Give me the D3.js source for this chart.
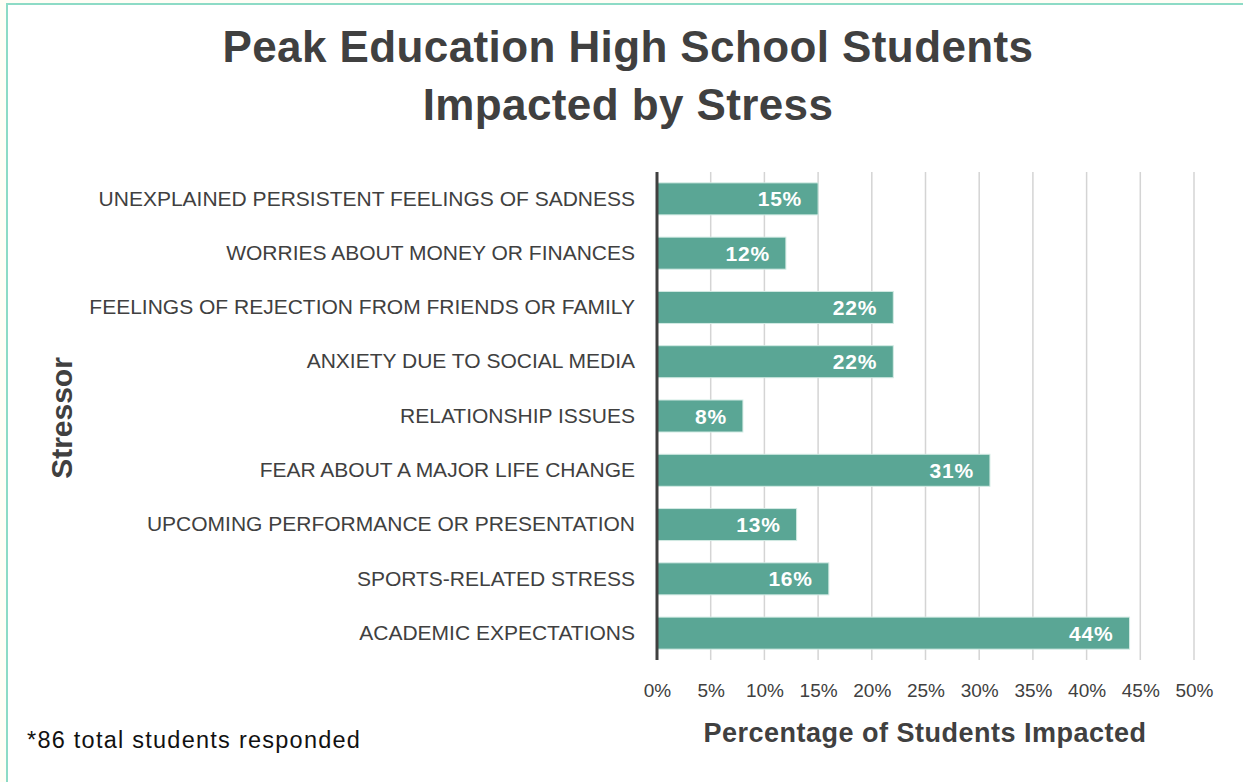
<!DOCTYPE html>
<html>
<head>
<meta charset="utf-8">
<script src="https://cdn.jsdelivr.net/npm/d3@7"></script>
<style>
  html, body { margin: 0; padding: 0; background: #fffef6; }
  svg { display: block; }
</style>
</head>
<body>
<div id="chart"></div>
<script>
const categories = [
  "UNEXPLAINED PERSISTENT FEELINGS OF SADNESS",
  "WORRIES ABOUT MONEY OR FINANCES",
  "FEELINGS OF REJECTION FROM FRIENDS OR FAMILY",
  "ANXIETY DUE TO SOCIAL MEDIA",
  "RELATIONSHIP ISSUES",
  "FEAR ABOUT A MAJOR LIFE CHANGE",
  "UPCOMING PERFORMANCE OR PRESENTATION",
  "SPORTS-RELATED STRESS",
  "ACADEMIC EXPECTATIONS"
]
const values = [15, 12, 22, 22, 8, 31, 13, 16, 44]
const xTicks = [0, 5, 10, 15, 20, 25, 30, 35, 40, 45, 50]

const W = 1243, H = 782
const svg = d3.select("#chart").append("svg").attr("width", W).attr("height", H)

// card with teal border on top/left
svg.append("rect").attr("x", 7).attr("y", 4).attr("width", W + 10).attr("height", H + 10)
  .attr("fill", "#ffffff").attr("stroke", "#8ddbc6").attr("stroke-width", 2)

const font = "'Liberation Sans', Arial, sans-serif"
const dark = "#404040"

const title = svg.append("text").attr("text-anchor", "middle")
  .style("font-family", font).style("font-weight", 700).style("font-size", "44px")
  .style("letter-spacing", "0.4px").attr("fill", dark)
title.append("tspan").attr("x", 628).attr("y", 62).text("Peak Education High School Students")
title.append("tspan").attr("x", 628).attr("y", 120).text("Impacted by Stress")

const x = d3.scaleLinear().domain([0, 50]).range([657, 1194])
const y = d3.scaleBand().domain(categories).range([172, 660]).paddingInner(0.41).paddingOuter(0.2)

// gridlines
svg.append("g").selectAll("line").data(xTicks.slice(1)).join("line")
  .attr("x1", d => x(d)).attr("x2", d => x(d)).attr("y1", 172).attr("y2", 660)
  .attr("stroke", "#d4d4d4").attr("stroke-width", 1.5)

// bars
svg.append("g").selectAll("rect").data(values).join("rect")
  .attr("x", x(0)).attr("y", (d, i) => y(categories[i]))
  .attr("width", d => x(d) - x(0)).attr("height", y.bandwidth())
  .attr("fill", "#5aa695").attr("stroke", "#d3ebe4").attr("stroke-width", 1)

// value labels
svg.append("g").selectAll("text").data(values).join("text")
  .attr("x", d => x(d) - 16).attr("y", (d, i) => y(categories[i]) + y.bandwidth() / 2)
  .attr("dy", "0.36em").attr("text-anchor", "end")
  .style("font-family", font).style("font-weight", 700).style("font-size", "21px")
  .style("letter-spacing", "0.8px")
  .attr("fill", "#ffffff").text(d => d + "%")

// y axis
const yAxis = svg.append("g").attr("transform", `translate(${x(0)},0)`)
  .call(d3.axisLeft(y).tickSize(0).tickPadding(22))
yAxis.select(".domain").attr("stroke", "#404040").attr("stroke-width", 3)
  .attr("d", "M0,172V660")
yAxis.selectAll("text").style("font-family", font).style("font-size", "21px")
  .style("font-weight", 400).attr("fill", dark)

// x axis
const xAxis = svg.append("g").attr("transform", "translate(0,660)")
  .call(d3.axisBottom(x).tickValues(xTicks).tickSize(0).tickPadding(24).tickFormat(d => d + "%"))
xAxis.select(".domain").remove()
xAxis.selectAll("text").style("font-family", font).style("font-size", "19px").attr("fill", dark)

svg.append("text").attr("x", 925).attr("y", 742).attr("text-anchor", "middle")
  .style("font-family", font).style("font-weight", 700).style("font-size", "27px")
  .style("letter-spacing", "0.5px").attr("fill", dark)
  .text("Percentage of Students Impacted")

svg.append("text").attr("transform", "translate(72,418) rotate(-90)").attr("text-anchor", "middle")
  .style("font-family", font).style("font-weight", 700).style("font-size", "30px").attr("fill", dark)
  .text("Stressor")

svg.append("text").attr("x", 27).attr("y", 748)
  .style("font-family", font).style("font-size", "23.5px").style("letter-spacing", "1.25px").attr("fill", "#111")
  .text("*86 total students responded")
</script>
</body>
</html>
